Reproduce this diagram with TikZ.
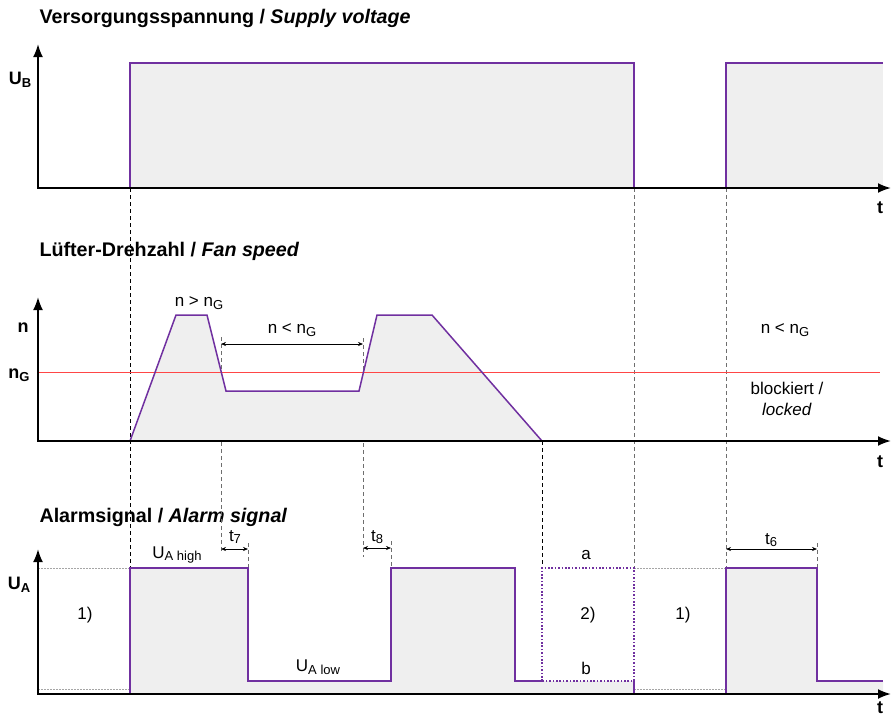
\documentclass[tikz,border=0pt]{standalone}
\usepackage{fontspec}
\setmainfont{Liberation Sans}
\usetikzlibrary{arrows.meta}

\definecolor{sigpurple}{RGB}{112,48,160}
\definecolor{areagray}{RGB}{239,239,239}
\definecolor{limitred}{RGB}{255,70,70}
\definecolor{guidegray}{RGB}{110,110,110}

\newcommand{\sbs}[1]{\raisebox{-0.3ex}{\fontsize{13}{15}\selectfont #1}}

\begin{document}
\begin{tikzpicture}[x=1pt, y=-1pt,
  axis/.style={line width=2pt, -{Latex[length=13pt,width=10pt]}},
  signal/.style={draw=sigpurple, line width=1.5pt},
  guide/.style={draw=black, line width=0.6pt, dash pattern=on 4pt off 3pt},
  guidegr/.style={guide, draw=guidegray},
  level/.style={draw=gray!70, line width=0.6pt, dash pattern=on 1.5pt off 1.5pt},
  dim/.style={{Stealth[length=5pt,width=4pt]}-{Stealth[length=5pt,width=4pt]}, line width=0.6pt},
  heading/.style={anchor=base west, font=\fontsize{19.7}{23}\selectfont\bfseries},
  lbl/.style={font=\fontsize{17}{21}\selectfont},
  axlbl/.style={font=\fontsize{18}{20}\selectfont\bfseries}
]
\useasboundingbox (0,0) rectangle (891,718);

% headings
\node[heading] (hsupply) at (36,23) {Versorgungsspannung / \textit{Supply voltage}};
\node[heading] (hfan) at (36,256) {Lüfter-Drehzahl / \textit{Fan speed}};
\node[heading] (halarm) at (36,522) {Alarmsignal / \textit{Alarm signal}};

% guide lines
\draw[guide] (130,188) -- (130,567);
\draw[guide] (542,441) -- (542,567);
\draw[guidegr] (221,337) -- (221,553);
\draw[guidegr] (363,338) -- (363,557);
\draw[guidegr] (248,543) -- (248,567);
\draw[guidegr] (391,541) -- (391,567);
\draw[guidegr] (634,188) -- (634,567);
\draw[guidegr] (726,188) -- (726,567);
\draw[guidegr] (817,543) -- (817,567);

% supply voltage
\fill[areagray] (130,188) rectangle (634,63);
\fill[areagray] (726,188) rectangle (883,63);
\draw[signal] (130,188) -- (130,63) -- (634,63) -- (634,188);
\draw[signal] (726,188) -- (726,63) -- (883,63);
\draw[axis] (38,188) -- (38,44);
\draw[axis] (37,188) -- (891,188);
\node[axlbl] (ub) at (20,80) {U\sbs{B}};
\node[axlbl] (t1) at (880,208) {t};

% fan speed
\fill[areagray] (130,441) -- (176,315) -- (207,315) -- (226,391) -- (359,391)
  -- (377,315) -- (432,315) -- (542,441) -- cycle;
\draw[limitred, line width=0.7pt] (38,372.7) -- (880,372.7);
\draw[signal] (130,441) -- (176,315) -- (207,315) -- (226,391) -- (359,391)
  -- (377,315) -- (432,315) -- (542,441);
\draw[axis] (38,441) -- (38,297);
\draw[axis] (37,441) -- (891,441);
\node[axlbl] (n) at (23,328) {n};
\node[axlbl] (ng) at (19,375) {n\sbs{G}};
\node[axlbl] (t2) at (880,462) {t};
\draw[dim] (221,344) -- (363,344);
\node[lbl] (fast) at (199,303) {n > n\sbs{G}};
\node[lbl] (slow) at (292,330) {n < n\sbs{G}};
\node[lbl] (slow2) at (785,330) {n < n\sbs{G}};
\node[lbl, align=center] (locked) at (787,399) {blockiert /\\\textit{locked}};

% alarm signal
\fill[areagray] (130,694) -- (130,568) -- (248,568) -- (248,681) -- (391,681)
  -- (391,568) -- (515,568) -- (515,681) -- (634,681) -- (634,694) -- cycle;
\fill[areagray] (726,694) -- (726,568) -- (817,568) -- (817,681) -- (883,681)
  -- (883,694) -- cycle;
\draw[level] (38,568) -- (130,568);
\draw[level] (38,689) -- (130,689);
\draw[level] (634,568) -- (726,568);
\draw[level] (634,689) -- (726,689);
\draw[signal] (130,694) -- (130,568) -- (248,568) -- (248,681) -- (391,681)
  -- (391,568) -- (515,568) -- (515,681) -- (542,681);
\draw[signal, dash pattern=on 1.6pt off 1.8pt] (542,681) -- (542,568) -- (634,568) -- (634,681) -- cycle;
\draw[signal] (634,681) -- (634,694);
\draw[signal] (726,694) -- (726,568) -- (817,568) -- (817,681) -- (883,681);
\draw[axis] (38,694) -- (38,549);
\draw[axis] (37,694) -- (891,694);
\node[axlbl] (ua) at (19,585) {U\sbs{A}};
\node[axlbl] (t3) at (880,708) {t};
\draw[dim] (221,549) -- (248,549);
\draw[dim] (363,548) -- (391,548);
\draw[dim] (726,549) -- (817,549);
\node[lbl] (t7) at (235,537) {t\sbs{7}};
\node[lbl] (t8) at (377,537) {t\sbs{8}};
\node[lbl] (t6) at (771,540) {t\sbs{6}};
\node[lbl] (uhigh) at (177,555) {U\sbs{A high}};
\node[lbl] (ulow) at (318,667) {U\sbs{A low}};
\node[lbl] (one1) at (85,615) {1)};
\node[lbl] (two) at (588,615) {2)};
\node[lbl] (one2) at (683,615) {1)};
\node[lbl] (la) at (586,555) {a};
\node[lbl] (lb) at (586,668) {b};
\end{tikzpicture}
\end{document}
